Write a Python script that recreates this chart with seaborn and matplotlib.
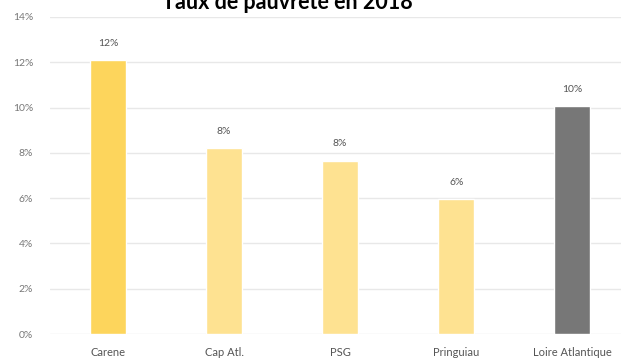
import matplotlib
matplotlib.use("Agg")
import matplotlib.pyplot as plt
import seaborn as sns
import pandas as pd

# Data
categories = ["Carene", "Cap Atl.", "PSG", "Pringuiau", "Loire Atlantique"]
values = [12.1, 8.2, 7.65, 5.95, 10.05]
labels = ["12%", "8%", "8%", "6%", "10%"]
colors = ["#FDD55C", "#FEE291", "#FEE291", "#FEE291", "#777777"]
yticks = [0, 2, 4, 6, 8, 10, 12, 14]

df = pd.DataFrame({"Territoire": categories, "Taux": values})

sns.set_style("white")
plt.rcParams["font.family"] = ["Lato", "DejaVu Sans"]

fig = plt.figure(figsize=(6.21, 3.59), dpi=100)
ax = fig.add_axes([50 / 621, 1 - 334 / 359, 571 / 621, (334 - 17) / 359])

sns.barplot(df, x="Territoire", y="Taux", hue="Territoire", palette=colors,
            width=0.31, legend=False, ax=ax, zorder=3, saturation=1)

# value labels above the bars
for i, (v, lab) in enumerate(zip(values, labels)):
    ax.text(i, v + 0.75, lab, ha="center", va="center", fontsize=7.5, color="#555555")

ax.set_ylim(0, 14)
ax.set_xlim(-0.5, 4.42)
ax.set_yticks(yticks, labels=[f"{t}%" for t in yticks])
ax.tick_params(axis="y", length=0, pad=12, labelsize=7.5, labelcolor="#777777")
ax.tick_params(axis="x", length=0, pad=9, labelsize=8, labelcolor="#555555")
ax.grid(axis="y", color="#e8e8e8", linewidth=1, zorder=0)
ax.set_xlabel(None)
ax.set_ylabel(None)
for s in ax.spines.values():
    s.set_visible(False)

# title sits at the very top edge, as in the original
fig.text(287 / 621, 1 - 9 / 359, "Taux de pauvreté en 2018", ha="center", va="baseline",
         fontsize=15.5, fontweight="bold", color="black")

fig.savefig("out.png", dpi=100)
